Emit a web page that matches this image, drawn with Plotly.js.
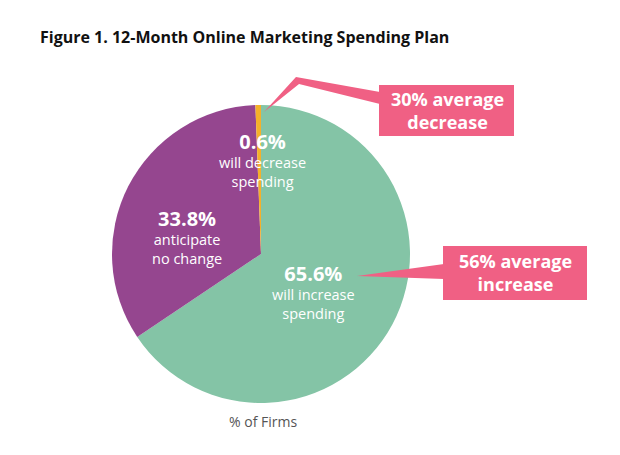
<!DOCTYPE html>
<html>
<head>
<meta charset="utf-8">
<script src="https://cdn.plot.ly/plotly-3.0.1.min.js"></script>
<style>
html,body{margin:0;padding:0;background:#fff;}
#chart{width:620px;height:455px;}
</style>
</head>
<body>
<div id="chart"></div>
<script>
// ---- data ----
const categories = ["will increase spending", "anticipate no change", "will decrease spending"];
const shares = [65.6, 33.8, 0.6];
const sliceColors = ["#84C4A6", "#95468F", "#F5B02A"];
const averageIncrease = 56;
const averageDecrease = 30;
const chartTitle = "Figure 1. 12-Month Online Marketing Spending Plan";
const footLabel = "% of Firms";

// ---- layout helpers (pixel -> paper) ----
const W = 620, H = 455;
const px = x => x / W;
const py = y => 1 - y / H;
const FONT = "'Open Sans', Lato, sans-serif";
const PINK = "#F06084";

function pathFrom(points) {
  return "M " + points.map(p => px(p[0]).toFixed(4) + "," + py(p[1]).toFixed(4)).join(" L ") + " Z";
}

const trace = {
  type: "pie",
  labels: categories,
  values: shares,
  sort: false,
  direction: "clockwise",
  rotation: 0,
  marker: {colors: sliceColors, line: {width: 0}},
  textinfo: "none",
  hoverinfo: "label+percent",
  showlegend: false,
  domain: {x: [px(112), px(410)], y: [py(403), py(105)]}
};

function label(x, y, pct, line1, line2) {
  return {
    x: px(x), y: py(y),
    text: "<span style='font-size:20px'><b>" + pct + "%</b></span><br>" + line1 + "<br>" + line2,
    font: {size: 14.5, color: "#fff", family: FONT}
  };
}

const annotations = [
  label(262, 159.5, shares[2], "will decrease", "spending"),
  label(187, 236.5, shares[1], "anticipate", "no change"),
  label(313, 291.5, shares[0], "will increase", "spending"),
  {x: px(447), y: py(110), text: "<b>" + averageDecrease + "% average<br>decrease</b>", font: {size: 18, color: "#fff", family: FONT}},
  {x: px(515), y: py(272), text: "<b>" + averageIncrease + "% average<br>increase</b>", font: {size: 18, color: "#fff", family: FONT}},
  {x: px(263), y: py(421), text: footLabel, font: {size: 14, color: "#555", family: FONT}}
].map(a => Object.assign({xref: "paper", yref: "paper", showarrow: false, xanchor: "center", yanchor: "middle", align: "center"}, a));

const shapes = [
  // decrease callout box + pointer
  {type: "rect", x0: px(379), x1: px(514), y0: py(136), y1: py(85)},
  {type: "path", path: pathFrom([[380, 92], [296, 77], [264, 112], [299, 84], [380, 104]])},
  // increase callout box + pointer
  {type: "rect", x0: px(443), x1: px(587), y0: py(300), y1: py(246)},
  {type: "path", path: pathFrom([[444, 264], [357, 276], [444, 279]])}
].map(s => Object.assign({xref: "paper", yref: "paper", fillcolor: PINK, line: {width: 0}, layer: "above"}, s));

const layout = {
  width: W, height: H,
  margin: {l: 0, r: 0, t: 0, b: 0},
  paper_bgcolor: "#fff",
  plot_bgcolor: "#fff",
  title: {text: "<b>" + chartTitle + "</b>", x: px(40), xanchor: "left", y: py(37), yanchor: "middle",
          font: {size: 16, color: "#111", family: FONT}},
  annotations: annotations,
  shapes: shapes
};

Plotly.newPlot("chart", [trace], layout, {displayModeBar: false, staticPlot: true});
</script>
</body>
</html>
